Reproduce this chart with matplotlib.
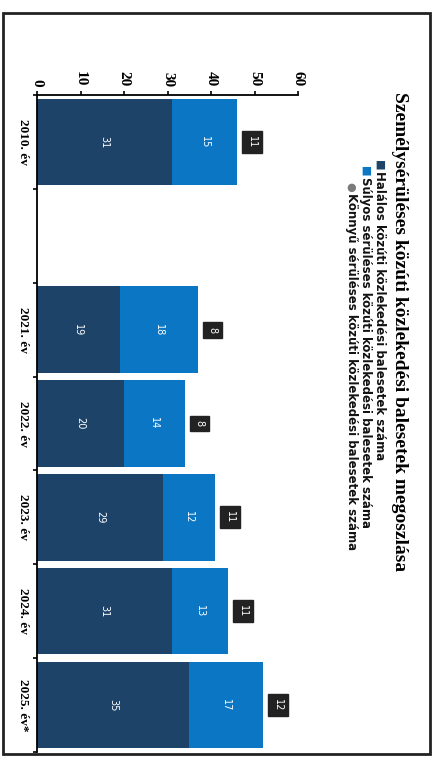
import numpy as np
import matplotlib.pyplot as plt
from matplotlib.patches import Rectangle

# categories (blank slot between 2010 and 2021 as in the original)
years = ["2010. év", "", "2021. év", "2022. év", "2023. év", "2024. év", "2025. év*"]
halalos = [31, np.nan, 19, 20, 29, 31, 35]
sulyos = [15, np.nan, 18, 14, 12, 13, 17]
konnyu = [11, np.nan, 8, 8, 11, 11, 12]

title = "Személysérüléses közúti közlekedési balesetek megoszlása"
legend_labels = [
    "Halálos közúti közlekedési balesetek száma",
    "Súlyos sérüléses közúti közlekedési balesetek száma",
    "Könnyű sérüléses közúti közlekedési balesetek száma",
]

c_dark = "#1d4468"
c_light = "#0b76c4"
c_box = "#222222"

fig = plt.figure(figsize=(4.36, 7.58), dpi=100)
ax = fig.add_axes([37 / 436, 6 / 758, 261 / 436, 657 / 758])

pos = np.arange(len(years))
h = np.array(halalos, dtype=float)
s = np.array(sulyos, dtype=float)
ax.barh(pos, h, height=0.92, color=c_dark)
ax.barh(pos, s, left=h, height=0.92, color=c_light)

serif = ["Liberation Serif", "DejaVu Serif"]
for i in range(len(years)):
    if np.isnan(h[i]):
        continue
    ax.text(h[i] / 2, pos[i], f"{int(h[i])}", color="white", fontsize=7,
            rotation=-90, ha="center", va="center")
    ax.text(h[i] + s[i] / 2, pos[i], f"{int(s[i])}", color="white", fontsize=7,
            rotation=-90, ha="center", va="center")
    ax.text(h[i] + s[i] + 2.2, pos[i], f"{konnyu[i]}", color="white", fontsize=7,
            rotation=-90, ha="left", va="center",
            bbox=dict(boxstyle="square,pad=0.5", fc=c_box, ec=c_box))

ax.set_xlim(0, 60)
ax.set_ylim(6.5, -0.5)
ax.xaxis.tick_top()
ax.set_xticks(range(0, 61, 10))
ax.set_xticklabels([str(v) for v in range(0, 61, 10)], rotation=-90,
                   fontfamily=serif, fontweight="bold", fontsize=11)
ax.tick_params(axis="x", length=3, width=1.2, pad=3)
ax.set_yticks(pos)
ax.set_yticklabels(years, rotation=-90, va="center", fontfamily=serif,
                   fontweight="bold", fontsize=9.5)
ax.set_yticks(np.arange(-0.5, 7, 1), minor=True)
ax.tick_params(axis="y", which="major", length=0, pad=6)
ax.tick_params(axis="y", which="minor", length=3, width=1.2)
for sp in ["right", "bottom"]:
    ax.spines[sp].set_visible(False)
ax.spines["top"].set_linewidth(1.3)
ax.spines["left"].set_linewidth(1.3)

# title and legend, rotated like the rest of the page
fig.text(399 / 436, 1 - 92 / 758, title, rotation=-90, ha="center", va="top",
         fontfamily=serif, fontweight="bold", fontsize=14)
legend_x = [379, 365, 351]
legend_y = [160, 166, 182]
legend_cols = [c_dark, c_light, "#7a7a7a"]
legend_mark = ["■", "■", "●"]
for x, y, col, m, lab in zip(legend_x, legend_y, legend_cols, legend_mark, legend_labels):
    fig.text(x / 436, 1 - y / 758, m, rotation=-90, ha="center", va="top",
             color=col, fontsize=8)
    fig.text(x / 436, 1 - (y + 11) / 758, lab, rotation=-90, ha="center", va="top",
             fontweight="bold", fontsize=8.5, color="#111111")

# scanned page frame
fig.patches.append(Rectangle((3 / 436, 4 / 758), 427 / 436, 741 / 758,
                             transform=fig.transFigure, fill=False,
                             ec="#222222", lw=2))

fig.savefig("out.png", dpi=100)
